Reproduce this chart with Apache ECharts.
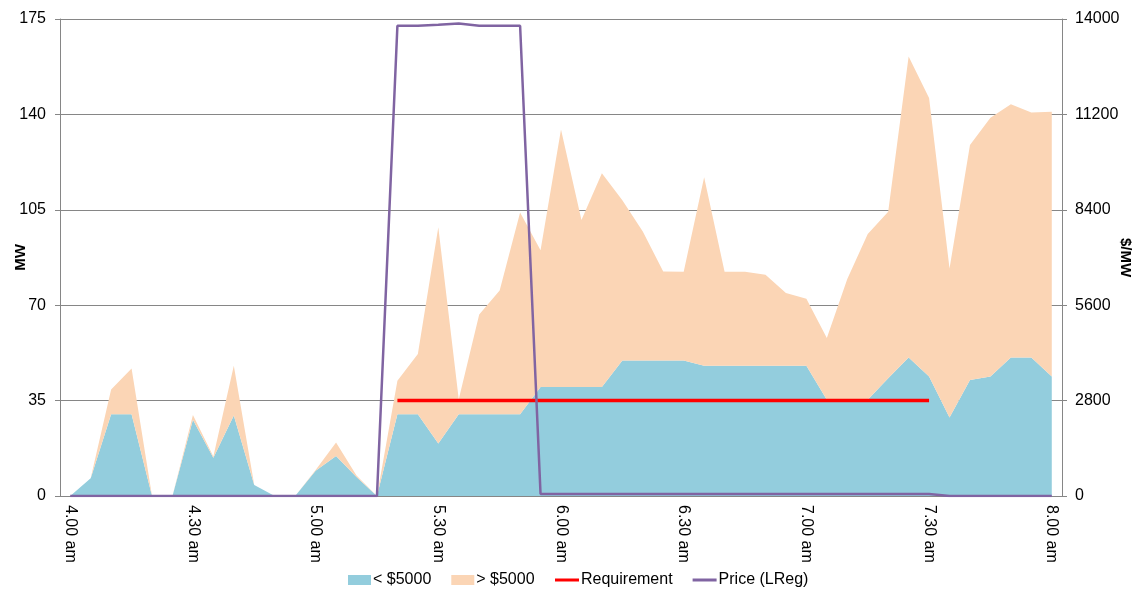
<!DOCTYPE html>
<html>
<head>
<meta charset="utf-8">
<title>LReg</title>
<script src="https://cdn.jsdelivr.net/npm/echarts@6/dist/echarts.min.js"></script>
<style>
  html, body { margin: 0; padding: 0; background: #fff; }
  #chart { width: 1138px; height: 589px; }
</style>
</head>
<body>
<div id="chart"></div>
<script>
// 5 minute intervals, 4.00 am - 8.00 am
var times = [
  '4.00 am', '4.05 am', '4.10 am', '4.15 am', '4.20 am', '4.25 am',
  '4.30 am', '4.35 am', '4.40 am', '4.45 am', '4.50 am', '4.55 am',
  '5.00 am', '5.05 am', '5.10 am', '5.15 am', '5.20 am', '5.25 am',
  '5.30 am', '5.35 am', '5.40 am', '5.45 am', '5.50 am', '5.55 am',
  '6.00 am', '6.05 am', '6.10 am', '6.15 am', '6.20 am', '6.25 am',
  '6.30 am', '6.35 am', '6.40 am', '6.45 am', '6.50 am', '6.55 am',
  '7.00 am', '7.05 am', '7.10 am', '7.15 am', '7.20 am', '7.25 am',
  '7.30 am', '7.35 am', '7.40 am', '7.45 am', '7.50 am', '7.55 am',
  '8.00 am'
]

// MW offered below $5000
var belowCap = [
  0, 6.5, 30, 30, 0, 0,
  28, 14, 29.5, 4, 0, 0,
  9.3, 14.7, 7, 0, 30, 30,
  19.3, 30, 30, 30, 30, 40,
  40, 40, 40, 49.7, 49.7, 49.7,
  49.7, 47.8, 47.8, 47.8, 47.8, 47.8,
  47.8, 35.3, 35.3, 35.3, 43.2, 50.8,
  43.8, 28.8, 42.6, 43.8, 50.8, 50.8,
  43.8
]

// MW offered above $5000 (stacked on top)
var aboveCap = [
  0, 0, 9.1, 16.8, 0, 0,
  1.7, 0.5, 18.3, 0, 0, 0,
  0.2, 4.9, 0.5, 0, 12.3, 22.1,
  79.3, 5.5, 36.6, 45.4, 74, 50.2,
  94.5, 61.3, 78.4, 58.8, 47.3, 32.7,
  32.6, 69.1, 34.5, 34.5, 33.4, 26.7,
  24.6, 22.7, 44.3, 60.8, 61.1, 110.4,
  102.2, 54.7, 86.2, 95, 92.9, 89.9,
  97.2
]

// requirement MW
var requirement = [
  null, null, null, null, null, null,
  null, null, null, null, null, null,
  null, null, null, null, 35, 35,
  35, 35, 35, 35, 35, 35,
  35, 35, 35, 35, 35, 35,
  35, 35, 35, 35, 35, 35,
  35, 35, 35, 35, 35, 35,
  35, null, null, null, null, null,
  null
]

// price $/MW
var price = [
  0, 0, 0, 0, 0, 0,
  0, 0, 0, 0, 0, 0,
  0, 0, 0, 0, 13800, 13800,
  13830, 13870, 13800, 13800, 13800, 60,
  60, 60, 60, 60, 60, 60,
  60, 60, 60, 60, 60, 60,
  60, 60, 60, 60, 60, 60,
  60, 0, 0, 0, 0, 0,
  0
]

var mwTicks = [0, 35, 70, 105, 140, 175]
var priceTicks = [0, 2800, 5600, 8400, 11200, 14000]

var font = '"Liberation Sans", Arial, sans-serif'
var grey = '#868686'

var myChart = echarts.init(document.getElementById('chart'))

myChart.setOption({
  animation: false,
  textStyle: { fontFamily: font },
  grid: { left: 60, right: 76, top: 19, bottom: 93, containLabel: false, outerBoundsMode: 'none' },
  legend: [
    {
      data: ['< $5000', '> $5000'],
      left: 343, top: 567,
      icon: 'rect', itemWidth: 23, itemHeight: 10, itemGap: 20,
      textStyle: { fontSize: 16, color: '#000', fontFamily: font, padding: [0, 0, 0, -3] }
    },
    {
      data: ['Requirement', 'Price (LReg)'],
      left: 550, top: 567,
      icon: 'rect', itemWidth: 24, itemHeight: 3, itemGap: 20,
      textStyle: { fontSize: 16, color: '#000', fontFamily: font, padding: [0, 0, 0, -3] }
    }
  ],
  xAxis: {
    type: 'category',
    data: times,
    boundaryGap: true,
    axisLine: { lineStyle: { color: grey } },
    axisTick: { interval: 5, length: 5, lineStyle: { color: grey } },
    axisLabel: { interval: 5, rotate: -90, fontSize: 16, color: '#000', margin: 9 },
    splitLine: { show: false }
  },
  yAxis: [
    {
      type: 'value',
      min: mwTicks[0], max: mwTicks[mwTicks.length - 1], interval: 35,
      name: 'MW', nameLocation: 'middle', nameGap: 32, nameRotate: 90, nameMoveOverlap: false,
      nameTextStyle: { fontSize: 15, fontWeight: 'bold', color: '#000' },
      axisLine: { show: true, lineStyle: { color: grey } },
      axisTick: { show: true, length: 5, lineStyle: { color: grey } },
      axisLabel: { fontSize: 16, color: '#000', margin: 14 },
      splitLine: { lineStyle: { color: grey, width: 1 } }
    },
    {
      type: 'value',
      min: priceTicks[0], max: priceTicks[priceTicks.length - 1], interval: 2800,
      name: '$/MW', nameLocation: 'middle', nameGap: 56, nameRotate: -90, nameMoveOverlap: false,
      nameTextStyle: { fontSize: 15, fontWeight: 'bold', color: '#000' },
      axisLine: { show: true, lineStyle: { color: grey } },
      axisTick: { show: true, length: 5, lineStyle: { color: grey } },
      axisLabel: { fontSize: 16, color: '#000', margin: 13, formatter: function (v) { return String(v) } },
      splitLine: { show: false }
    }
  ],
  series: [
    {
      name: '< $5000',
      type: 'line',
      stack: 'mw',
      data: belowCap,
      symbol: 'none',
      lineStyle: { width: 0 },
      itemStyle: { color: '#93CDDD' },
      areaStyle: { color: '#93CDDD', opacity: 1 },
      z: 1
    },
    {
      name: '> $5000',
      type: 'line',
      stack: 'mw',
      data: aboveCap,
      symbol: 'none',
      lineStyle: { width: 0 },
      itemStyle: { color: '#FBD5B5' },
      areaStyle: { color: '#FBD5B5', opacity: 1 },
      z: 1
    },
    {
      name: 'Requirement',
      type: 'line',
      data: requirement,
      symbol: 'none',
      lineStyle: { color: '#FF0000', width: 3.5 },
      itemStyle: { color: '#FF0000' },
      z: 3
    },
    {
      name: 'Price (LReg)',
      type: 'line',
      yAxisIndex: 1,
      data: price,
      symbol: 'none',
      lineStyle: { color: '#8064A2', width: 2.5 },
      itemStyle: { color: '#8064A2' },
      z: 4
    }
  ]
})
</script>
</body>
</html>
